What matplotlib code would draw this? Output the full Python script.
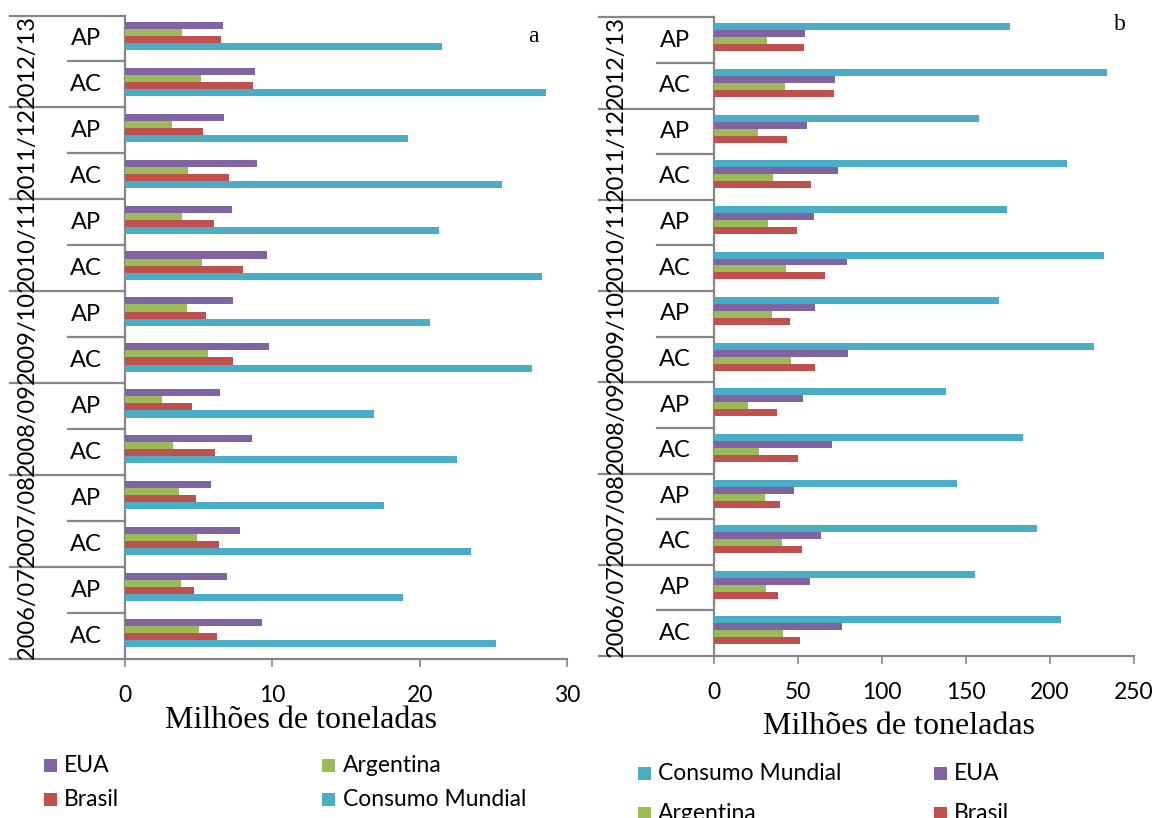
import matplotlib
matplotlib.use("Agg")
import matplotlib.pyplot as plt
from matplotlib.patches import Rectangle
import numpy as np

# Safras (de baixo para cima) e tipo de ano: AC = ano civil, AP = ano-safra
years = ["2006/07", "2007/08", "2008/09", "2009/10", "2010/11", "2011/12", "2012/13"]
periods = ["AC", "AP"]

# Painel a (milhões de toneladas), ordem: 2006/07 AC, 2006/07 AP, 2007/08 AC, ...
a_eua = [9.27, 6.95, 7.78, 5.82, 8.59, 6.45, 9.75, 7.33, 9.67, 7.25, 8.94, 6.73, 8.79, 6.62]
a_argentina = [5.04, 3.78, 4.91, 3.68, 3.27, 2.49, 5.62, 4.20, 5.21, 3.90, 4.26, 3.17, 5.14, 3.85]
a_brasil = [6.22, 4.66, 6.40, 4.81, 6.10, 4.56, 7.33, 5.49, 8.04, 6.02, 7.08, 5.31, 8.69, 6.50]
a_mundial = [25.2, 18.9, 23.5, 17.6, 22.5, 16.9, 27.6, 20.7, 28.3, 21.3, 25.6, 19.2, 28.6, 21.5]

# Painel b (milhões de toneladas)
b_mundial = [206.7, 155.1, 192.3, 144.4, 184.2, 138.2, 226.2, 169.7, 232.3, 174.3, 210.0, 157.7, 234.0, 175.9]
b_eua = [75.9, 57.1, 63.6, 47.7, 70.4, 53.1, 79.8, 60.1, 79.2, 59.7, 73.7, 55.3, 72.2, 54.2]
b_argentina = [41.3, 31.1, 40.5, 30.4, 26.9, 20.3, 45.9, 34.8, 42.9, 32.2, 35.0, 26.2, 42.4, 31.7]
b_brasil = [51.0, 38.3, 52.5, 39.4, 50.1, 37.6, 60.1, 45.1, 65.8, 49.4, 58.0, 43.5, 71.3, 53.4]

a_ticks = [0, 10, 20, 30]
b_ticks = [0, 50, 100, 150, 200, 250]
xlabel = "Milhões de toneladas"

C_EUA = "#8064A2"
C_ARG = "#9BBB59"
C_BRA = "#C0504D"
C_MUN = "#4BACC6"
GRAY = "#868686"

W, H = 1158, 818
fig = plt.figure(figsize=(W / 100, H / 100), dpi=100)
fig.patch.set_facecolor("white")

SANS = ["Lato", "DejaVu Sans"]
SERIF = ["Liberation Serif", "DejaVu Serif"]


def px_axes(left, right, top, bottom):
    return fig.add_axes([left / W, 1 - bottom / H, (right - left) / W, (bottom - top) / H])


def draw_panel(ax, series, xmax, ticks, width_px):
    n = len(years) * len(periods)
    y = np.arange(n)
    h = 0.153
    shift = 0.06
    for k, (vals, col) in enumerate(series):
        off = (1.5 - k) * h + shift
        ax.barh(y + off, vals, height=h, color=col, edgecolor="none", linewidth=0, zorder=3)
    ax.set_ylim(-0.5, n - 0.5)
    ax.set_xlim(0, xmax)
    ax.set_xticks(ticks)
    ax.set_xticklabels([str(t) for t in ticks], fontfamily=SANS, fontsize=16.5)
    ax.tick_params(axis="x", direction="out", length=6, width=1.2, color=GRAY, pad=13)
    ax.set_yticks([])
    for s in ["top", "right"]:
        ax.spines[s].set_visible(False)
    for s in ["left", "bottom"]:
        ax.spines[s].set_color(GRAY)
        ax.spines[s].set_linewidth(1.6)

    tr = ax.get_yaxis_transform()
    x_outer = -115 / width_px
    x_inner = -57 / width_px
    # separadores da hierarquia de categorias
    for i in range(n + 1):
        yb = i - 0.5
        if i % 2 == 0:
            ax.plot([x_outer, 0], [yb, yb], color=GRAY, lw=1.6, transform=tr, clip_on=False)
        else:
            ax.plot([x_inner, 0], [yb, yb], color=GRAY, lw=1.6, transform=tr, clip_on=False)
    for i in range(n):
        ax.text(-39.5 / width_px, i, periods[i % 2], transform=tr, ha="center", va="center",
                fontsize=17, fontfamily=SANS, color="black")
    for j, yr in enumerate(years):
        ax.text(-98 / width_px, 2 * j + 0.5, yr, transform=tr, ha="center", va="center",
                rotation=90, fontsize=17, fontfamily=SANS, color="black")


# Painel a
ax_a = px_axes(125, 567, 15.5, 659)
draw_panel(ax_a, [(a_eua, C_EUA), (a_argentina, C_ARG), (a_brasil, C_BRA), (a_mundial, C_MUN)],
           30, a_ticks, 442)
fig.text(533 / W, 1 - 37 / H, "a", fontfamily=SERIF, fontsize=17, ha="center", va="center")
fig.text(301 / W, 1 - 720 / H, xlabel, fontfamily=SERIF, fontsize=23, ha="center", va="center")

# Painel b
ax_b = px_axes(714, 1134, 17.3, 656)
draw_panel(ax_b, [(b_mundial, C_MUN), (b_eua, C_EUA), (b_argentina, C_ARG), (b_brasil, C_BRA)],
           250, b_ticks, 420)
fig.text(1120 / W, 1 - 25 / H, "b", fontfamily=SERIF, fontsize=17, ha="center", va="center")
fig.text(899 / W, 1 - 727 / H, xlabel, fontfamily=SERIF, fontsize=23, ha="center", va="center")


def legend_item(x_sq, x_txt, yc, label, color, size=13):
    fig.patches.append(Rectangle(((x_sq) / W, 1 - (yc + size / 2) / H), size / W, size / H,
                                 transform=fig.transFigure, facecolor=color, edgecolor="none"))
    fig.text(x_txt / W, 1 - yc / H, label, fontfamily=SANS, fontsize=16.5, ha="left", va="center")


legend_item(44, 64, 765, "EUA", C_EUA)
legend_item(322, 343, 765, "Argentina", C_ARG)
legend_item(44, 64, 799, "Brasil", C_BRA)
legend_item(322, 343, 799, "Consumo Mundial", C_MUN)

legend_item(638, 658, 773, "Consumo Mundial", C_MUN)
legend_item(934, 954, 773, "EUA", C_EUA)
legend_item(638, 658, 814, "Argentina", C_ARG)
legend_item(934, 954, 814, "Brasil", C_BRA)

fig.savefig("out.png", dpi=100, facecolor="white")
